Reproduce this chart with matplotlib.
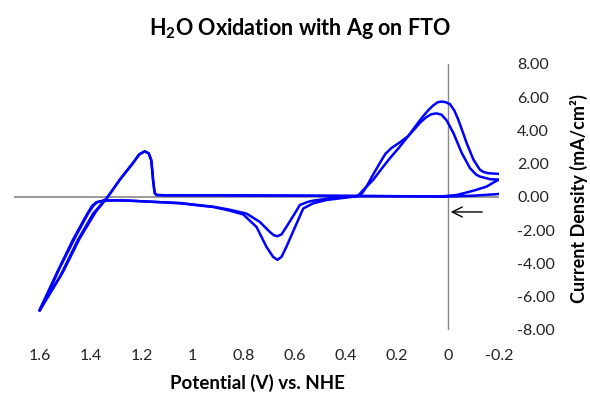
import numpy as np
import matplotlib
matplotlib.use('Agg')
import matplotlib.pyplot as plt

plt.rcParams['font.family'] = ['Lato', 'DejaVu Sans']
plt.rcParams['mathtext.fontset'] = 'custom'
plt.rcParams['mathtext.rm'] = 'Lato'
plt.rcParams['mathtext.bf'] = 'Lato:bold'

# cycle 1: start at -0.2 V, scan to 1.6 V and back to -0.2 V
cycle1_v = [-0.2, -0.1, 0.0, 0.3, 0.6, 0.9, 1.1, 1.142, 1.149, 1.155, 1.162, 1.172, 1.188, 1.21, 1.234, 1.286,
            1.333, 1.38, 1.443, 1.508, 1.6,
            1.56, 1.522, 1.456, 1.41, 1.388, 1.372, 1.35, 1.3, 1.25, 1.17, 1.05, 0.97, 0.92, 0.86, 0.802,
            0.75, 0.711, 0.685, 0.668, 0.652, 0.633, 0.593, 0.567, 0.528, 0.476, 0.397, 0.353,
            0.335, 0.319, 0.295, 0.267, 0.245, 0.221, 0.188, 0.156, 0.13, 0.11, 0.085, 0.065, 0.045,
            0.025, 0.005, -0.021, -0.054, -0.086, -0.11, -0.125, -0.165, -0.2,
            -0.178, -0.152, -0.1, -0.06, -0.034, 0.03]
cycle1_j = [0.18, 0.08, 0.03, 0.05, 0.08, 0.1, 0.1, 0.12, 0.25, 1.0, 2.2, 2.62, 2.75, 2.55, 2.04, 1.03,
            0.0, -0.9, -2.5, -4.5, -6.85,
            -5.6, -4.3, -2.3, -1.0, -0.5, -0.3, -0.22, -0.2, -0.22, -0.28, -0.38, -0.52, -0.6, -0.8, -1.05,
            -1.8, -3.0, -3.6, -3.78, -3.6, -3.0, -1.6, -0.69, -0.38, -0.18, -0.03, 0.06,
            0.25, 0.63, 1.3, 2.04, 2.6, 2.95, 3.29, 3.66, 4.1, 4.46, 4.8, 4.98, 5.03,
            4.95, 4.6, 3.86, 2.65, 1.74, 1.35, 1.23, 1.07, 1.05,
            0.87, 0.63, 0.38, 0.22, 0.12, 0.03]

# cycle 2: from 0.03 V to 1.6 V and back to -0.2 V
cycle2_v = [0.03, 0.3, 0.6, 0.9, 1.1, 1.142, 1.149, 1.155, 1.162, 1.172, 1.188, 1.21, 1.234, 1.286,
            1.333, 1.39, 1.45, 1.52, 1.6,
            1.53, 1.47, 1.42, 1.395, 1.378, 1.35, 1.3, 1.25, 1.17, 1.05, 0.97, 0.92, 0.86, 0.789,
            0.737, 0.698, 0.682, 0.668, 0.652, 0.633, 0.6, 0.58, 0.55, 0.528, 0.463, 0.397, 0.353,
            0.33, 0.293, 0.26, 0.227, 0.19, 0.156, 0.125, 0.097, 0.075, 0.057, 0.04, 0.025, 0.008,
            -0.008, -0.025, -0.04, -0.057, -0.073, -0.1, -0.125, -0.14, -0.158, -0.2]
cycle2_j = [0.03, 0.06, 0.08, 0.1, 0.1, 0.12, 0.25, 1.0, 2.2, 2.62, 2.75, 2.55, 2.04, 1.03,
            0.0, -1.0, -2.6, -4.8, -6.8,
            -4.5, -2.6, -1.2, -0.55, -0.32, -0.22, -0.2, -0.22, -0.28, -0.36, -0.5, -0.58, -0.75, -1.0,
            -1.5, -2.1, -2.3, -2.36, -2.25, -1.8, -0.99, -0.48, -0.3, -0.22, -0.08, 0.0, 0.06,
            0.45, 1.03, 1.7, 2.34, 3.0, 3.66, 4.3, 4.87, 5.25, 5.52, 5.7, 5.74, 5.7,
            5.58, 5.2, 4.67, 3.95, 3.25, 2.24, 1.64, 1.5, 1.43, 1.39]

x_ticks = [1.6, 1.4, 1.2, 1, 0.8, 0.6, 0.4, 0.2, 0, -0.2]
y_ticks = [-8, -6, -4, -2, 0, 2, 4, 6, 8]

fig = plt.figure(figsize=(5.9, 3.97), dpi=100)
ax = fig.add_axes([0.0237, 0.1688, 0.8221, 0.67])

ax.plot(cycle1_v, cycle1_j, color='#0000FF', lw=1.8, solid_joinstyle='round')
ax.plot(cycle2_v, cycle2_j, color='#0000FF', lw=1.8, solid_joinstyle='round')

ax.axhline(0, color='#888888', lw=1.2, zorder=0)
ax.axvline(0, color='#888888', lw=1.0, zorder=0)

ax.annotate('', xy=(0.0, -0.9), xytext=(-0.145, -0.9),
            arrowprops=dict(arrowstyle='->', color='black', lw=1.0, mutation_scale=18))

ax.set_xlim(1.7, -0.2)
ax.set_ylim(-8, 8)
ax.set_xticks(x_ticks)
ax.set_xticklabels([f'{t:g}' for t in x_ticks])
ax.set_yticks(y_ticks)
ax.set_yticklabels([f'{t:.2f}' for t in y_ticks])
ax.yaxis.tick_right()
ax.tick_params(axis='y', length=0, pad=13, labelsize=11.5, colors='#222222')
ax.tick_params(axis='x', length=0, pad=14, labelsize=11.5, colors='#222222')
for s in ax.spines.values():
    s.set_visible(False)

fig.text(0.508, 0.929, r'$\mathbf{H_2O}$ Oxidation with Ag on FTO', ha='center', va='center',
         fontsize=15.5, fontweight='bold')
fig.text(0.437, 0.035, 'Potential (V) vs. NHE', ha='center', va='center',
         fontsize=13.5, fontweight='bold')
fig.text(0.981, 0.5, 'Current Density (mA/cm²)', ha='center', va='center', rotation=90,
         fontsize=13, fontweight='bold')

fig.savefig('out.png', dpi=100)
